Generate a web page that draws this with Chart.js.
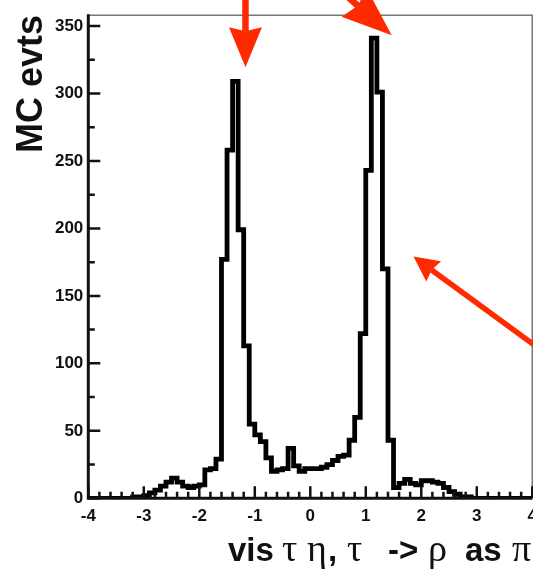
<!DOCTYPE html>
<html><head><meta charset="utf-8">
<script src="https://cdn.jsdelivr.net/npm/chart.js@4/dist/chart.umd.min.js"></script>
<style>
html,body{margin:0;padding:0;overflow:hidden;background:#fff;width:533px;height:570px}
#wrap{position:absolute;left:0;top:0;width:545px;height:570px}
</style>
</head><body><div id="wrap"><canvas id="c" width="545" height="570"></canvas></div>
<script>
// ---- data ----
const binLow = -4.0;
const binWidth = 0.1;
const counts = [
  0, 0, 0, 0, 0, 0, 0, 0, 0, 1,
  1, 2, 4, 6, 9, 12, 15, 12, 9, 8,
  9, 10, 21, 22, 29, 177, 258, 309, 199, 113,
  55, 47, 42, 30, 20, 21, 22, 37, 24, 20,
  22, 22, 22, 23, 25, 28, 31, 32, 43, 60,
  122, 243, 341, 301, 170, 43, 8, 11, 14, 11,
  10, 13, 13, 12, 11, 8, 5, 3, 1, 1,
  0, 0, 0, 0, 0, 0, 0, 0, 0, 0
];
const xTickValues = [-4, -3, -2, -1, 0, 1, 2, 3, 4];
const xTickLabels = ['-4', '-3', '-2', '-1', '0', '1', '2', '3', '4'];
const yTickValues = [0, 50, 100, 150, 200, 250, 300, 350];
const yTickLabels = ['0', '50', '100', '150', '200', '250', '300', '350'];
const xRange = [-4, 4];
const yRange = [0, 358];
const yTitle = 'MC evts';
const xTitleParts = [
  {text: 'vis', greek: false, at: 228},
  {text: 'τ', greek: true, at: 282},
  {text: 'η', greek: true, at: 307},
  {text: ',', greek: false, at: 328},
  {text: 'τ', greek: true, at: 347},
  {text: '->', greek: false, at: 388},
  {text: 'ρ', greek: true, at: 428},
  {text: 'as', greek: false, at: 465},
  {text: 'π', greek: true, at: 512}
];
// annotation arrows, in data coordinates (tip / tail)
const arrows = [
  {tip: [-1.168, 319.4], tail: [-1.168, 520], head: 40, half: 16.5, shaft: 6.5},
  {tip: [1.467, 343.1], tail: [-1.224, 439.9], head: 50, half: 19, shaft: 6.5},
  {tip: [1.860, 179.1], tail: [4.744, 92.2], head: 25, half: 12.5, shaft: 5.5}
];

// ---- build histogram step points ----
const points = counts.map((v, i) => ({x: binLow + i * binWidth, y: v}));
points.push({x: binLow + counts.length * binWidth, y: counts[counts.length - 1]});

const INK = '#111';
const RED = '#ff2a00';

const decor = {
  id: 'decor',
  afterDatasetsDraw(chart) {
    const {ctx, chartArea: a, scales: {x, y}} = chart;
    ctx.save();
    ctx.strokeStyle = '#777';
    ctx.lineWidth = 1.5;
    ctx.beginPath();
    ctx.moveTo(a.left, a.top); ctx.lineTo(a.right, a.top); ctx.lineTo(a.right, a.bottom);
    ctx.stroke();
    ctx.strokeStyle = INK;
    ctx.lineWidth = 3;
    ctx.beginPath();
    ctx.moveTo(a.left, a.top - 1); ctx.lineTo(a.left, a.bottom + 1.5);
    ctx.moveTo(a.left - 1.5, a.bottom); ctx.lineTo(a.right, a.bottom);
    ctx.stroke();
    ctx.lineWidth = 2.5;
    ctx.beginPath();
    for (let v = yRange[0]; v <= yRange[1]; v += 25) {
      const p = y.getPixelForValue(v);
      const len = (v % 50 === 0) ? 12 : 6.5;
      ctx.moveTo(a.left, p); ctx.lineTo(a.left + len, p);
    }
    for (let k = 0; k <= 40; k++) {
      const v = xRange[0] + k * 0.2;
      const p = x.getPixelForValue(v);
      const len = (k % 5 === 0) ? 12 : 6.5;
      ctx.moveTo(p, a.bottom); ctx.lineTo(p, a.bottom - len);
    }
    ctx.stroke();
    ctx.restore();
  },
  afterDraw(chart) {
    const {ctx, scales: {x, y}} = chart;
    ctx.save();
    ctx.fillStyle = INK;
    ctx.font = 'bold 36px "Liberation Sans", Arial, sans-serif';
    ctx.translate(42, 153);
    ctx.rotate(-Math.PI / 2);
    ctx.textAlign = 'left';
    ctx.textBaseline = 'alphabetic';
    ctx.fillText(yTitle, 0, 0);
    ctx.restore();
    ctx.save();
    ctx.fillStyle = INK;
    ctx.textBaseline = 'alphabetic';
    ctx.textAlign = 'left';
    xTitleParts.forEach(pt => {
      ctx.font = pt.greek ? '38px "Liberation Serif", "DejaVu Serif", serif'
                          : 'bold 33px "Liberation Sans", Arial, sans-serif';
      ctx.fillText(pt.text, pt.at, 561);
    });
    ctx.restore();
    ctx.save();
    ctx.fillStyle = RED;
    ctx.strokeStyle = RED;
    arrows.forEach(ar => {
      const tx = x.getPixelForValue(ar.tip[0]), ty = y.getPixelForValue(ar.tip[1]);
      const sx = x.getPixelForValue(ar.tail[0]), sy = y.getPixelForValue(ar.tail[1]);
      let dx = tx - sx, dy = ty - sy;
      const L = Math.hypot(dx, dy); dx /= L; dy /= L;
      const nx = -dy, ny = dx;
      const bx = tx - dx * ar.head, by = ty - dy * ar.head;
      const mx = tx - dx * ar.head * 0.9, my = ty - dy * ar.head * 0.9;
      ctx.lineWidth = ar.shaft;
      ctx.lineCap = 'butt';
      ctx.beginPath();
      ctx.moveTo(sx, sy); ctx.lineTo(mx, my);
      ctx.stroke();
      ctx.beginPath();
      ctx.moveTo(tx, ty);
      ctx.lineTo(bx + nx * ar.half, by + ny * ar.half);
      ctx.lineTo(mx, my);
      ctx.lineTo(bx - nx * ar.half, by - ny * ar.half);
      ctx.closePath();
      ctx.fill();
    });
    ctx.restore();
  }
};

new Chart(document.getElementById('c'), {
  type: 'line',
  data: {
    datasets: [{
      data: points,
      stepped: 'after',
      borderColor: '#000',
      borderWidth: 4.8,
      borderJoinStyle: 'miter',
      borderCapStyle: 'butt',
      pointRadius: 0,
      fill: false,
      tension: 0
    }]
  },
  options: {
    responsive: false,
    animation: false,
    events: [],
    layout: {padding: {left: 0, top: 10.7, right: 9.5, bottom: 0}},
    plugins: {legend: {display: false}, tooltip: {enabled: false}, title: {display: false}},
    scales: {
      x: {
        type: 'linear',
        min: xRange[0], max: xRange[1],
        grid: {display: false, drawTicks: false},
        border: {display: false},
        afterFit: s => { s.height = 71.7; },
        afterBuildTicks: s => { s.ticks = xTickValues.map(v => ({value: v})); },
        ticks: {
          font: {family: '"Liberation Sans", Arial, sans-serif', size: 17, weight: 'bold'},
          color: INK,
          padding: 8,
          maxRotation: 0,
          autoSkip: false,
          callback: v => xTickLabels[xTickValues.indexOf(v)]
        }
      },
      y: {
        min: yRange[0], max: yRange[1],
        grid: {display: false, drawTicks: false},
        border: {display: false},
        afterFit: s => { s.width = 88.3; },
        afterBuildTicks: s => { s.ticks = yTickValues.map(v => ({value: v})); },
        ticks: {
          font: {family: '"Liberation Sans", Arial, sans-serif', size: 17, weight: 'bold'},
          color: INK,
          padding: 5,
          callback: v => yTickLabels[yTickValues.indexOf(v)]
        }
      }
    }
  },
  plugins: [decor]
});
</script>
</body></html>
